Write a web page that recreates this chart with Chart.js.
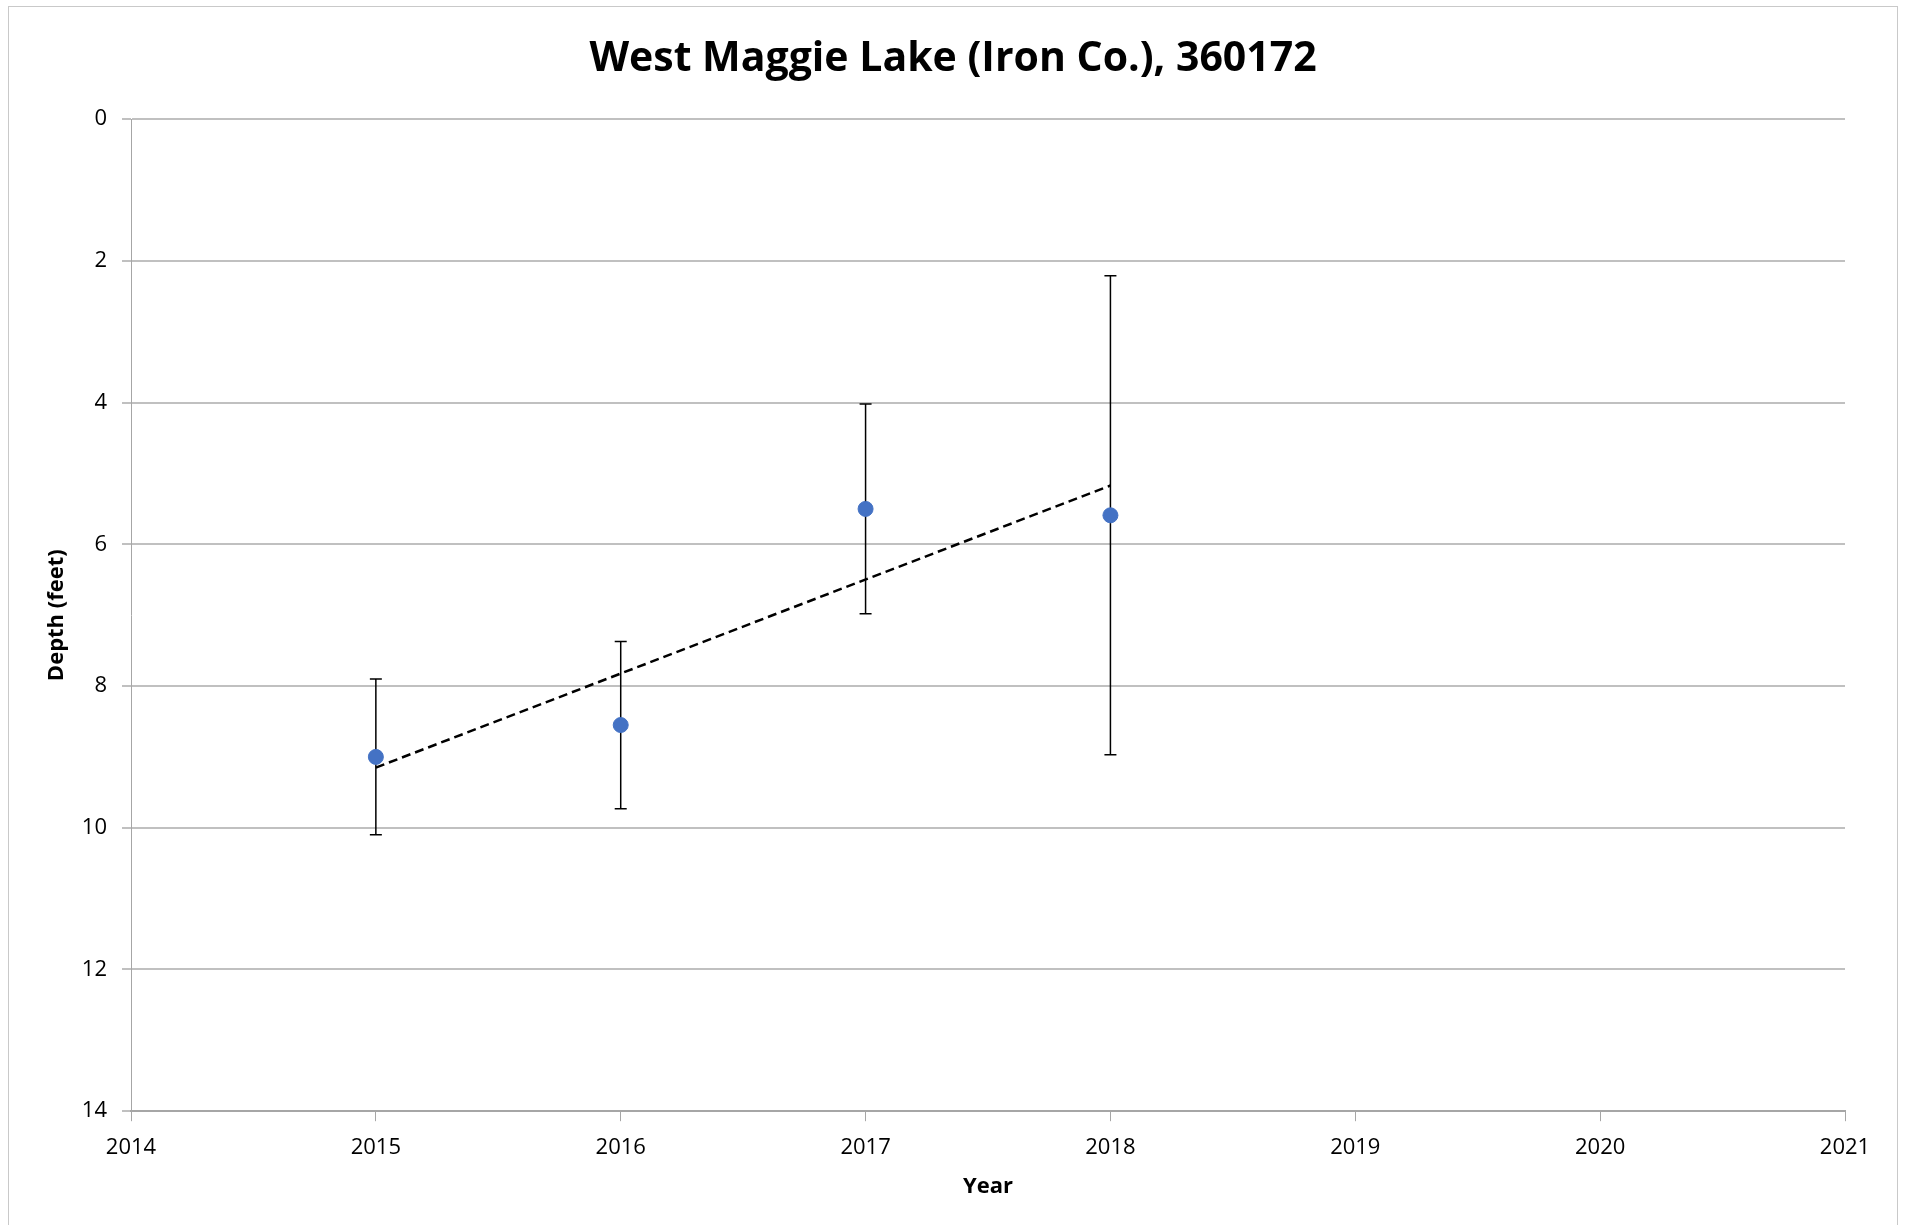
<!DOCTYPE html>
<html>
<head>
<meta charset="utf-8">
<script src="https://cdn.jsdelivr.net/npm/chart.js@4.4.1/dist/chart.umd.min.js"></script>
<style>
  html, body { margin: 0; padding: 0; background: #fff; }
  #wrap { position: relative; width: 1906px; height: 1225px; }
  #frame { position: absolute; left: 8px; top: 6px; width: 1890px; height: 1240px; border: 1px solid #c9c9c9; box-sizing: border-box; }
  canvas { position: absolute; left: 0; top: 0; }
</style>
</head>
<body>
<div id="wrap">
  <div id="frame"></div>
  <canvas id="depthChart" width="1906" height="1225"></canvas>
</div>
<script>
// ================= DATA =================
const years = [2015, 2016, 2017, 2018];
const depths = [9.0, 8.55, 5.5, 5.59];
const errors = [1.1, 1.18, 1.48, 3.38];
const trendYears = [2015, 2018];
const trendDepths = [9.15, 5.17];
const yTicks = [0, 2, 4, 6, 8, 10, 12, 14];
const xTicks = [2014, 2015, 2016, 2017, 2018, 2019, 2020, 2021];

const font = "'Open Sans', 'Liberation Sans', sans-serif";

// error bars drawn under the points
const errorBars = {
    id: "errorBars",
    beforeDatasetsDraw(chart) {
        const ctx = chart.ctx;
        const xs = chart.scales.x, ys = chart.scales.y;
        ctx.save();
        ctx.strokeStyle = "#000";
        ctx.lineWidth = 1.5;
        years.forEach((yr, i) => {
            const px = xs.getPixelForValue(yr);
            const top = ys.getPixelForValue(depths[i] - errors[i]);
            const bot = ys.getPixelForValue(depths[i] + errors[i]);
            ctx.beginPath();
            ctx.moveTo(px, top); ctx.lineTo(px, bot);
            ctx.moveTo(px - 6, top); ctx.lineTo(px + 6, top);
            ctx.moveTo(px - 6, bot); ctx.lineTo(px + 6, bot);
            ctx.stroke();
        });
        ctx.restore();
    }
};

// centre the title on the whole canvas, not on the padded box
const centreTitle = {
    id: "centreTitle",
    afterLayout(chart) {
        const t = chart.titleBlock;
        if (t) { t.left = 0; t.right = chart.width; t.width = chart.width; }
    }
};

new Chart(document.getElementById("depthChart"), {
    type: "scatter",
    data: {
        datasets: [
            {
                label: "Depth",
                data: years.map((y, i) => ({ x: y, y: depths[i] })),
                backgroundColor: "#4472C4",
                borderColor: "#4472C4",
                pointRadius: 7.5,
                pointHoverRadius: 7.5
            },
            {
                label: "Trend",
                type: "line",
                data: trendYears.map((y, i) => ({ x: y, y: trendDepths[i] })),
                borderColor: "#000",
                borderWidth: 2.5,
                borderDash: [9, 5],
                pointRadius: 0,
                fill: false
            }
        ]
    },
    options: {
        responsive: false,
        animation: false,
        layout: { padding: { top: 22, left: 30, right: 61, bottom: 21 } },
        plugins: {
            legend: { display: false },
            tooltip: { enabled: false },
            title: {
                display: true,
                text: "West Maggie Lake (Iron Co.), 360172",
                color: "#000",
                font: { family: font, size: 41, weight: "bold" },
                padding: { top: 13, bottom: 35 }
            }
        },
        scales: {
            x: {
                type: "linear",
                min: 2014,
                max: 2021,
                afterBuildTicks: axis => { axis.ticks = xTicks.map(v => ({ value: v })); },
                ticks: {
                    callback: v => String(v),
                    color: "#000",
                    font: { family: font, size: 22 },
                    padding: 13
                },
                grid: { drawOnChartArea: false, drawTicks: true, tickLength: 10, color: "#a6a6a6", lineWidth: 1 },
                border: { color: "#a6a6a6", width: 2 },
                title: {
                    display: true,
                    text: "Year",
                    color: "#000",
                    font: { family: font, size: 22, weight: "bold" },
                    padding: { top: 0, bottom: 4 }
                }
            },
            y: {
                min: 0,
                max: 14,
                reverse: true,
                afterBuildTicks: axis => { axis.ticks = yTicks.map(v => ({ value: v })); },
                afterFit: scale => { scale.width = 101; },
                ticks: {
                    color: "#000",
                    font: { family: font, size: 22 },
                    padding: 15
                },
                grid: { color: "#c0c0c0", lineWidth: 2, tickLength: 9 },
                border: { color: "#a6a6a6", width: 1 },
                title: {
                    display: true,
                    text: "Depth (feet)",
                    color: "#000",
                    font: { family: font, size: 22, weight: "bold" },
                    padding: { top: 14, bottom: 12 }
                }
            }
        }
    },
    plugins: [errorBars, centreTitle]
});
</script>
</body>
</html>
